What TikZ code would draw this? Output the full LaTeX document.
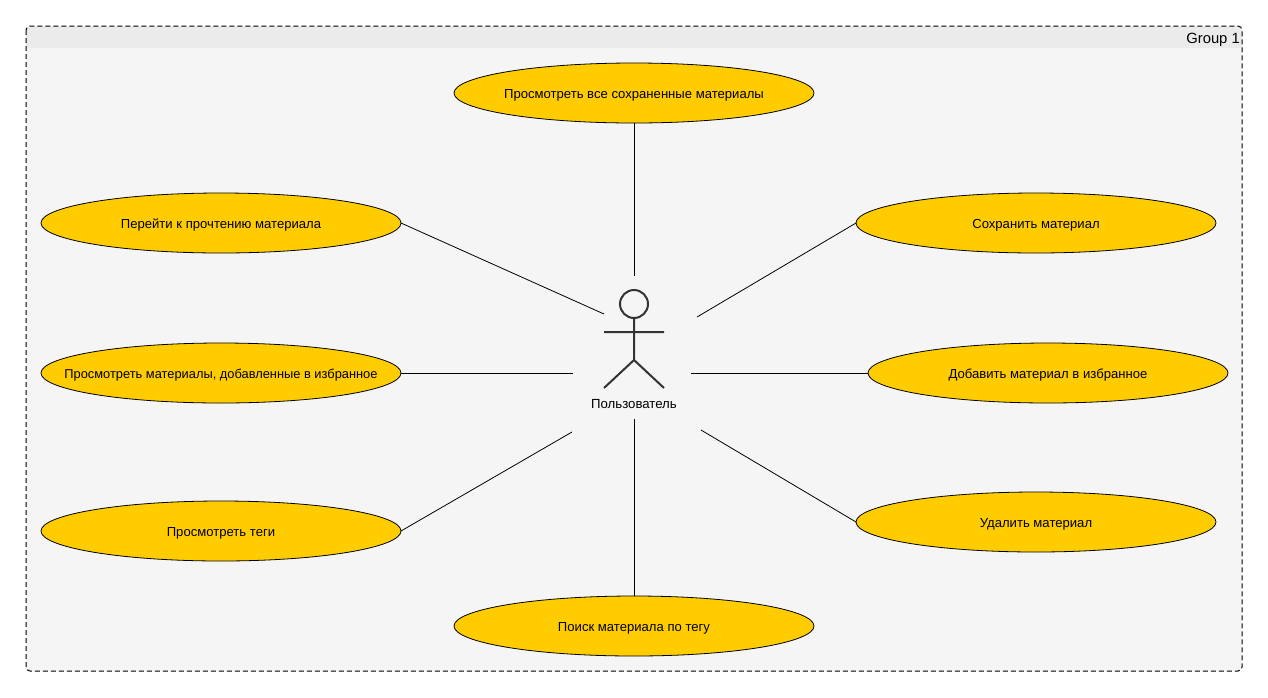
\documentclass[tikz,border=0pt]{standalone}
\usepackage{fontspec}
\setmainfont{Liberation Sans}
\usetikzlibrary{shapes.geometric}
\definecolor{groupfill}{HTML}{F5F5F5}
\definecolor{headfill}{HTML}{EBEBEB}
\definecolor{usefill}{HTML}{FFCC00}
\definecolor{actorline}{HTML}{333333}
\newcommand{\uctext}[1]{\raisebox{-5.2pt}[0pt][0pt]{\makebox[0pt][c]{#1}}}
\tikzset{
  usecase/.style={ellipse,draw=black,fill=usefill,line width=0.8pt,minimum width=360pt,minimum height=60pt,inner sep=0pt,outer sep=0pt,font=\fontsize{13.1}{15}\selectfont},
  link/.style={draw=black,line width=0.8pt},
  actorstroke/.style={draw=actorline,line width=2pt},
  grouplabel/.style={font=\fontsize{14.8}{17}\selectfont,inner sep=0pt,anchor=east},
  actorlabel/.style={font=\fontsize{13.2}{15}\selectfont,inner sep=0pt}
}
\begin{document}
\begin{tikzpicture}[x=1pt,y=-1pt]
\useasboundingbox (0,0) rectangle (1268,697);
\fill[white] (0,0) rectangle (1268,697);
\fill[groupfill,rounded corners=4pt] (26,26) rectangle (1242,671);
\fill[headfill,rounded corners=4pt] (26,26) rectangle (1242,40);
\fill[headfill] (26,36) rectangle (1242,48);
\draw[black,line width=1pt,dash pattern=on 5pt off 3pt,rounded corners=4pt] (26,26) rectangle (1242,671);
\node[grouplabel] (grp) at (1240,39.5) {Group 1};

\node[usecase] (u1) at (634,93) {\uctext{Просмотреть все сохраненные материалы}};
\node[usecase] (u2) at (221,223) {\uctext{Перейти к прочтению материала}};
\node[usecase] (u3) at (221,373) {\fontsize{12.85}{15}\selectfont\uctext{Просмотреть материалы, добавленные в избранное}};
\node[usecase] (u4) at (221,531) {\uctext{Просмотреть теги}};
\node[usecase] (u5) at (634,626) {\uctext{Поиск материала по тегу}};
\node[usecase] (u6) at (1036,223) {\uctext{Сохранить материал}};
\node[usecase] (u7) at (1048,373) {\uctext{Добавить материал в избранное}};
\node[usecase] (u8) at (1036,522) {\uctext{Удалить материал}};

\node[actorlabel] (actor) at (634,404) {Пользователь};
\draw[actorstroke] (634,304) circle (14pt);
\draw[actorstroke] (634,318) -- (634,360) (604,332) -- (664,332) (604,388) -- (634,360) -- (664,388);

\coordinate (a1) at (634,276);
\coordinate (a2) at (604,314);
\coordinate (a3) at (573,373);
\coordinate (a4) at (572,432);
\coordinate (a5) at (634,419);
\coordinate (a6) at (697,317);
\coordinate (a7) at (691,373);
\coordinate (a8) at (701,430);
\draw[link] (u1.south) -- (a1);
\draw[link] (u2.east) -- (a2);
\draw[link] (u3.east) -- (a3);
\draw[link] (u4.east) -- (a4);
\draw[link] (u5.north) -- (a5);
\draw[link] (u6.west) -- (a6);
\draw[link] (u7.west) -- (a7);
\draw[link] (u8.west) -- (a8);
\end{tikzpicture}
\end{document}
